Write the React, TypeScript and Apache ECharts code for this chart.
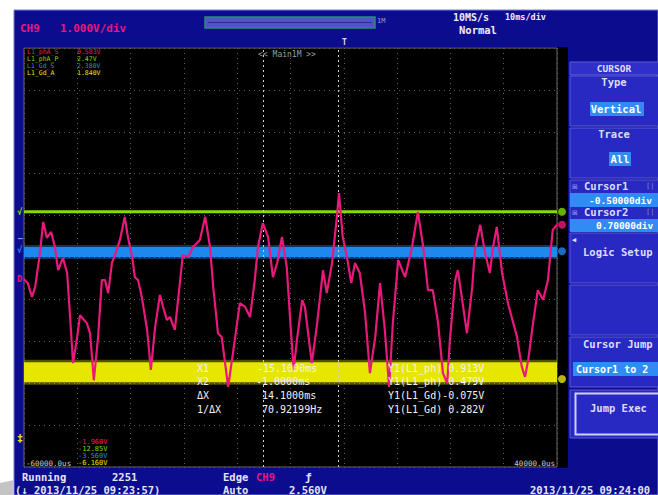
import React, { useEffect, useRef } from "react";
import * as echarts from "echarts";

// ---- data (time in ms, level in divisions) ----
const timeMin = -60;
const timeMax = 40;
const timeStep = 10;
const divMin = -5;
const divMax = 5;

const pinkTrace: [number, number][] = [
  [-60.0, -0.52], [-59.3, -0.61], [-58.5, -0.94], [-57.9, -0.7], [-57.0, 0.11], [-56.4, 0.85],
  [-55.7, 0.47], [-54.9, 0.61], [-54.2, 0.25], [-53.6, -0.3], [-52.7, -0.01], [-51.9, -0.37],
  [-51.4, -1.33], [-50.8, -2.52], [-50.1, -1.97], [-49.5, -1.38], [-48.2, -1.57], [-47.6, -1.81],
  [-46.9, -2.93], [-46.1, -1.9], [-45.4, -0.54], [-44.8, -0.54], [-44.2, -0.85], [-43.5, -0.13],
  [-42.6, 0.18], [-42.0, 0.42], [-41.1, 0.97], [-40.5, 0.49], [-39.7, 0.01], [-39.2, -0.47],
  [-38.6, -0.54], [-37.9, -0.94], [-36.9, -1.73], [-36.2, -2.68], [-35.4, -1.66], [-34.5, -0.89],
  [-33.9, -1.18], [-33.2, -1.49], [-32.6, -1.42], [-31.7, -1.73], [-30.7, -0.54], [-30.2, 0.06],
  [-29.2, 0.01], [-28.3, 0.25], [-27.0, 0.42], [-26.0, 0.97], [-25.1, 0.25], [-24.5, -0.7],
  [-23.6, -1.81], [-22.9, -1.9], [-21.7, -3.09], [-20.8, -2.28], [-19.5, -1.09], [-18.5, -1.18],
  [-17.6, -1.42], [-16.7, -0.54], [-16.1, 0.25], [-15.2, 0.82], [-14.2, 0.49], [-13.3, -0.47],
  [-12.5, -0.13], [-11.6, 0.49], [-10.7, -0.23], [-9.9, -1.8], [-9.4, -2.68], [-8.8, -1.97],
  [-7.8, -1.01], [-7.3, -1.18], [-6.0, -2.52], [-5.0, -1.57], [-3.9, -0.3], [-3.2, -0.85],
  [-2.2, -0.13], [-1.3, 0.97], [-0.9, 1.54], [-0.2, 0.49], [0.6, 0.01], [1.4, -0.61],
  [2.1, -0.13], [3.0, -0.37], [4.0, -1.33], [4.9, -2.76], [5.9, -1.9], [6.8, -0.61],
  [7.7, -1.73], [8.5, -3.09], [9.2, -1.57], [10.2, -0.06], [11.5, -0.47], [12.8, 0.25],
  [13.9, 1.09], [14.9, 0.25], [15.8, -0.78], [16.7, -0.78], [17.7, -1.57], [18.6, -2.76],
  [19.4, -3.0], [19.9, -1.97], [20.9, -0.54], [21.4, -0.3], [22.4, -1.18], [23.1, -1.81],
  [24.1, -0.7], [24.6, 0.18], [25.6, 0.78], [26.5, 0.11], [27.4, -0.37], [28.0, 0.25],
  [28.7, 0.73], [29.7, -0.37], [30.8, -1.09], [32.5, -1.9], [33.4, -2.61], [34.0, -2.85],
  [34.6, -2.45], [35.5, -1.57], [36.4, -0.78], [37.4, -1.01], [38.3, -0.54], [39.2, 0.66],
  [40.0, 0.78],
];

const greenLevel = 1.09;
const blueLevel = 0.13;
const yellowLevel = -2.74;
const cursorTimes = [-15.1, -1.0];
const markerLevels = [1.09, 0.78, 0.15, -2.9];

const topReadoutNames = ["L1_phA_S", "L1_phA_P", "L1_Gd_S", "L1_Gd_A"];
const topReadoutValues = ["0.583V", "2.47V", "2.380V", "1.840V"];
const bottomReadoutValues = ["-1.960V", "-12.85V", "-3.560V", "-6.160V"];
const cursorLabels = ["X1", "X2", "ΔX", "1/ΔX"];
const cursorValues = ["-15.1000ms", "-1.0000ms", "14.1000ms", "70.92199Hz"];
const cursorYValues = ["Y1(L1_ph) 0.913V", "Y1(L1_ph) 0.479V", "Y1(L1_Gd)-0.075V", "Y1(L1_Gd) 0.282V"];
const timeLabels = ["-60000.0us", "40000.0us"];

const PINK = "#e8187c";
const GREEN = "#84dc00";
const BLUE = "#1d88ee";
const YELLOW = "#e6e600";
const TRACE_COLORS = [PINK, GREEN, BLUE, YELLOW];
const FONT = '"DejaVu Sans Mono", "Liberation Mono", monospace';

function txt(x: number, y: number, text: string, fill: string, size: number, opts: any = {}) {
  return {
    type: "text",
    x,
    y,
    z: opts.z ?? 50,
    style: {
      text,
      fill,
      fontSize: size,
      fontFamily: FONT,
      fontWeight: opts.weight ?? "bold",
      align: opts.align ?? "left",
      verticalAlign: "middle",
    },
  };
}

function rect(x: number, y: number, w: number, h: number, style: any, z = -1) {
  return { type: "rect", z, shape: { x, y, width: w, height: h }, style };
}

export default function App() {
  const ref = useRef<HTMLDivElement>(null);

  useEffect(() => {
    if (!ref.current) return;
    const chart = echarts.init(ref.current, undefined, { renderer: "svg", width: 658, height: 495 });

    const PANEL = "#2828c2";
    const PANEL_STROKE = "#5a5ad6";
    const HILITE = "#2f8cf4";
    const PTXT = "#dcdcff";

    const boxes = [
      [76, 50], [128, 50], [180, 51], [233, 50], [285, 50], [337, 50], [390, 48],
    ];

    const graphics: any[] = [
      // frame
      rect(14, 10, 644, 485, { fill: "#0c0c8e", stroke: "#7a7ae6", lineWidth: 1 }, -3),
      { type: "polygon", z: -3, shape: { points: [[0, 483], [14, 480], [14, 495], [0, 495]] }, style: { fill: "#c4c4c4" } },
      // black screen
      rect(24, 47, 544, 421, { fill: "#000000" }, -2),
      // zoom bar in header
      rect(205, 17, 170, 11, { fill: "#5252c8", stroke: "#2a8c6c", lineWidth: 1.5 }, -1),
      { type: "line", z: -1, shape: { x1: 208, y1: 22.5, x2: 372, y2: 22.5 }, style: { stroke: "#2a2a9e", lineWidth: 1 } },
      txt(377, 21, "1M", "#9a9ad0", 7, { weight: "normal" }),
      // header texts
      txt(20, 28, "CH9", PINK, 11),
      txt(60, 28, "1.000V/div", PINK, 11),
      txt(453, 17, "10MS/s", "#ececff", 10),
      txt(505, 17, "10ms/div", "#ececff", 8.5),
      txt(459, 30, "Normal", "#ececff", 10.5),
      txt(342, 42, "T", "#dddddd", 8),
      txt(287, 54, "<< Main1M >>", "#9c9c9c", 8, { align: "center", weight: "normal" }),
      // left level markers
      txt(17, 212, "√", GREEN, 9),
      txt(18, 238, "–", "#6aa0ff", 8),
      txt(17, 250, "√", BLUE, 9),
      txt(17, 279, "D", PINK, 9),
      txt(17, 438, "‡", YELLOW, 10),
      // bottom screen labels
      txt(26, 463, timeLabels[0], "#cfcfcf", 7.5, { weight: "normal" }),
      txt(555, 463, timeLabels[1], "#cfcfcf", 7.5, { weight: "normal", align: "right" }),
      // status bar
      txt(22, 477, "Running", "#e4e4f4", 10.5),
      txt(112, 477, "2251", "#e4e4f4", 10.5),
      txt(223, 477, "Edge", "#e4e4f4", 10.5),
      txt(256, 477, "CH9", PINK, 10.5),
      txt(305, 477, "ƒ", "#e4e4f4", 11),
      txt(15, 490, "(↓ 2013/11/25 09:23:57)", "#e4e4f4", 10.5),
      txt(223, 490, "Auto", "#e4e4f4", 10.5),
      txt(289, 490, "2.560V", "#e4e4f4", 10.5),
      txt(530, 490, "2013/11/25 09:24:00", "#e4e4f4", 10.5),
      // right panel
      rect(570, 62, 90, 13, { fill: "#3030c8", stroke: PANEL_STROKE, lineWidth: 1 }, -1),
      txt(614, 68.5, "CURSOR", PTXT, 9.5, { align: "center" }),
    ];

    boxes.forEach(([y, h]) => {
      graphics.push(rect(570, y, 90, h, { fill: PANEL, stroke: PANEL_STROKE, lineWidth: 1 }, -1));
    });
    graphics.push(
      rect(575.5, 393.5, 90, 41, { fill: "none", stroke: "#d0d0f4", lineWidth: 2 }, -1),
      rect(590, 102, 54, 14, { fill: HILITE }, -1),
      rect(609, 152, 22, 14, { fill: HILITE }, -1),
      rect(570, 193, 90, 14, { fill: HILITE }, -1),
      rect(570, 219, 90, 13, { fill: HILITE }, -1),
      rect(573, 362, 90, 14, { fill: HILITE }, -1),
      txt(614, 82, "Type", PTXT, 10.5, { align: "center" }),
      txt(616, 109, "Vertical", "#ffffff", 10.5, { align: "center" }),
      txt(614, 134, "Trace", PTXT, 10.5, { align: "center" }),
      txt(620, 159, "All", "#ffffff", 10.5, { align: "center" }),
      txt(572, 186, "☒", PTXT, 9, { weight: "normal" }),
      txt(584, 186, "Cursor1", PTXT, 10.5),
      txt(646, 186, "[|", "#8a8ad0", 7, { weight: "normal" }),
      txt(589, 200, "-0.50000div", "#ffffff", 9.5),
      txt(572, 212, "☒", PTXT, 9, { weight: "normal" }),
      txt(584, 212, "Cursor2", PTXT, 10.5),
      txt(646, 212, "[|", "#8a8ad0", 7, { weight: "normal" }),
      txt(596, 225.5, "0.70000div", "#ffffff", 9.5),
      txt(572, 240, "◀", PTXT, 7, { weight: "normal" }),
      txt(583, 252, "Logic Setup", PTXT, 10.5),
      txt(583, 344, "Cursor Jump", PTXT, 10.5),
      txt(576, 369, "Cursor1 to 2", "#ffffff", 10),
      txt(590, 408, "Jump Exec", PTXT, 10.5),
    );

    // readouts top-left and bottom-left
    topReadoutNames.forEach((n, i) => {
      graphics.push(txt(27, 52 + i * 7, n, TRACE_COLORS[i], 6.5, { weight: "normal" }));
      graphics.push(txt(77, 52 + i * 7, topReadoutValues[i], TRACE_COLORS[i], 6.5, { weight: "normal" }));
    });
    bottomReadoutValues.forEach((v, i) => {
      graphics.push(txt(78, 442 + i * 7, v, TRACE_COLORS[i], 7, { weight: "normal" }));
    });
    // cursor readouts
    const valueX = [257, 256, 262, 262];
    cursorLabels.forEach((l, i) => {
      const y = 368 + i * 13.7;
      graphics.push(txt(197, y, l, "#f2f2f2", 10, { weight: "normal", z: 60 }));
      graphics.push(txt(valueX[i], y, cursorValues[i], "#f2f2f2", 10, { weight: "normal", z: 60 }));
      graphics.push(txt(388, y, cursorYValues[i], "#f2f2f2", 10, { weight: "normal", z: 60 }));
    });

    const flat = (v: number) => [[timeMin, v], [timeMax, v]];
    const dotted = { color: "#5e5e5e", type: [1, 4], width: 1 };

    chart.setOption({
      animation: false,
      backgroundColor: "#ffffff",
      grid: { left: 24, top: 48, width: 533, height: 419, show: true, borderColor: "#6a6a6a", borderWidth: 1, backgroundColor: "transparent" },
      xAxis: {
        type: "value", min: timeMin, max: timeMax, interval: timeStep, z: 1,
        axisLine: { show: false }, axisTick: { show: false }, axisLabel: { show: false },
        splitLine: { show: true, lineStyle: dotted },
      },
      yAxis: {
        type: "value", min: divMin, max: divMax, interval: 1, z: 1,
        axisLine: { show: false }, axisTick: { show: false }, axisLabel: { show: false },
        splitLine: { show: true, lineStyle: dotted },
      },
      series: [
        {
          type: "line", z: 1, data: [], silent: true,
          markLine: {
            silent: true, symbol: ["none", "none"], label: { show: false },
            lineStyle: { color: "#cfcfcf", type: [2, 3], width: 1 },
            data: cursorTimes.map((t) => ({ xAxis: t })),
          },
        },
        { type: "line", z: 2, data: flat(yellowLevel), showSymbol: false, lineStyle: { color: YELLOW, width: 25, opacity: 0.35 } },
        { type: "line", z: 3, data: flat(yellowLevel), showSymbol: false, lineStyle: { color: YELLOW, width: 20 } },
        { type: "line", z: 2, data: flat(blueLevel), showSymbol: false, lineStyle: { color: BLUE, width: 14, opacity: 0.4 } },
        { type: "line", z: 3, data: flat(blueLevel), showSymbol: false, lineStyle: { color: BLUE, width: 10 } },
        { type: "line", z: 3, data: flat(greenLevel), showSymbol: false, lineStyle: { color: GREEN, width: 3 } },
        { type: "line", z: 5, data: pinkTrace, showSymbol: false, lineStyle: { color: PINK, width: 2.2 } },
        {
          type: "scatter", z: 6, clip: false, symbol: "circle", symbolSize: 8, symbolOffset: [5, 0],
          data: markerLevels.map((v, i) => ({ value: [timeMax, v], itemStyle: { color: [GREEN, PINK, BLUE, YELLOW][i] } })),
        },
      ],
      graphic: { elements: graphics },
    });

    return () => chart.dispose();
  }, []);

  return <div ref={ref} style={{ position: "fixed", left: 0, top: 0, width: 658, height: 495 }} />;
}
